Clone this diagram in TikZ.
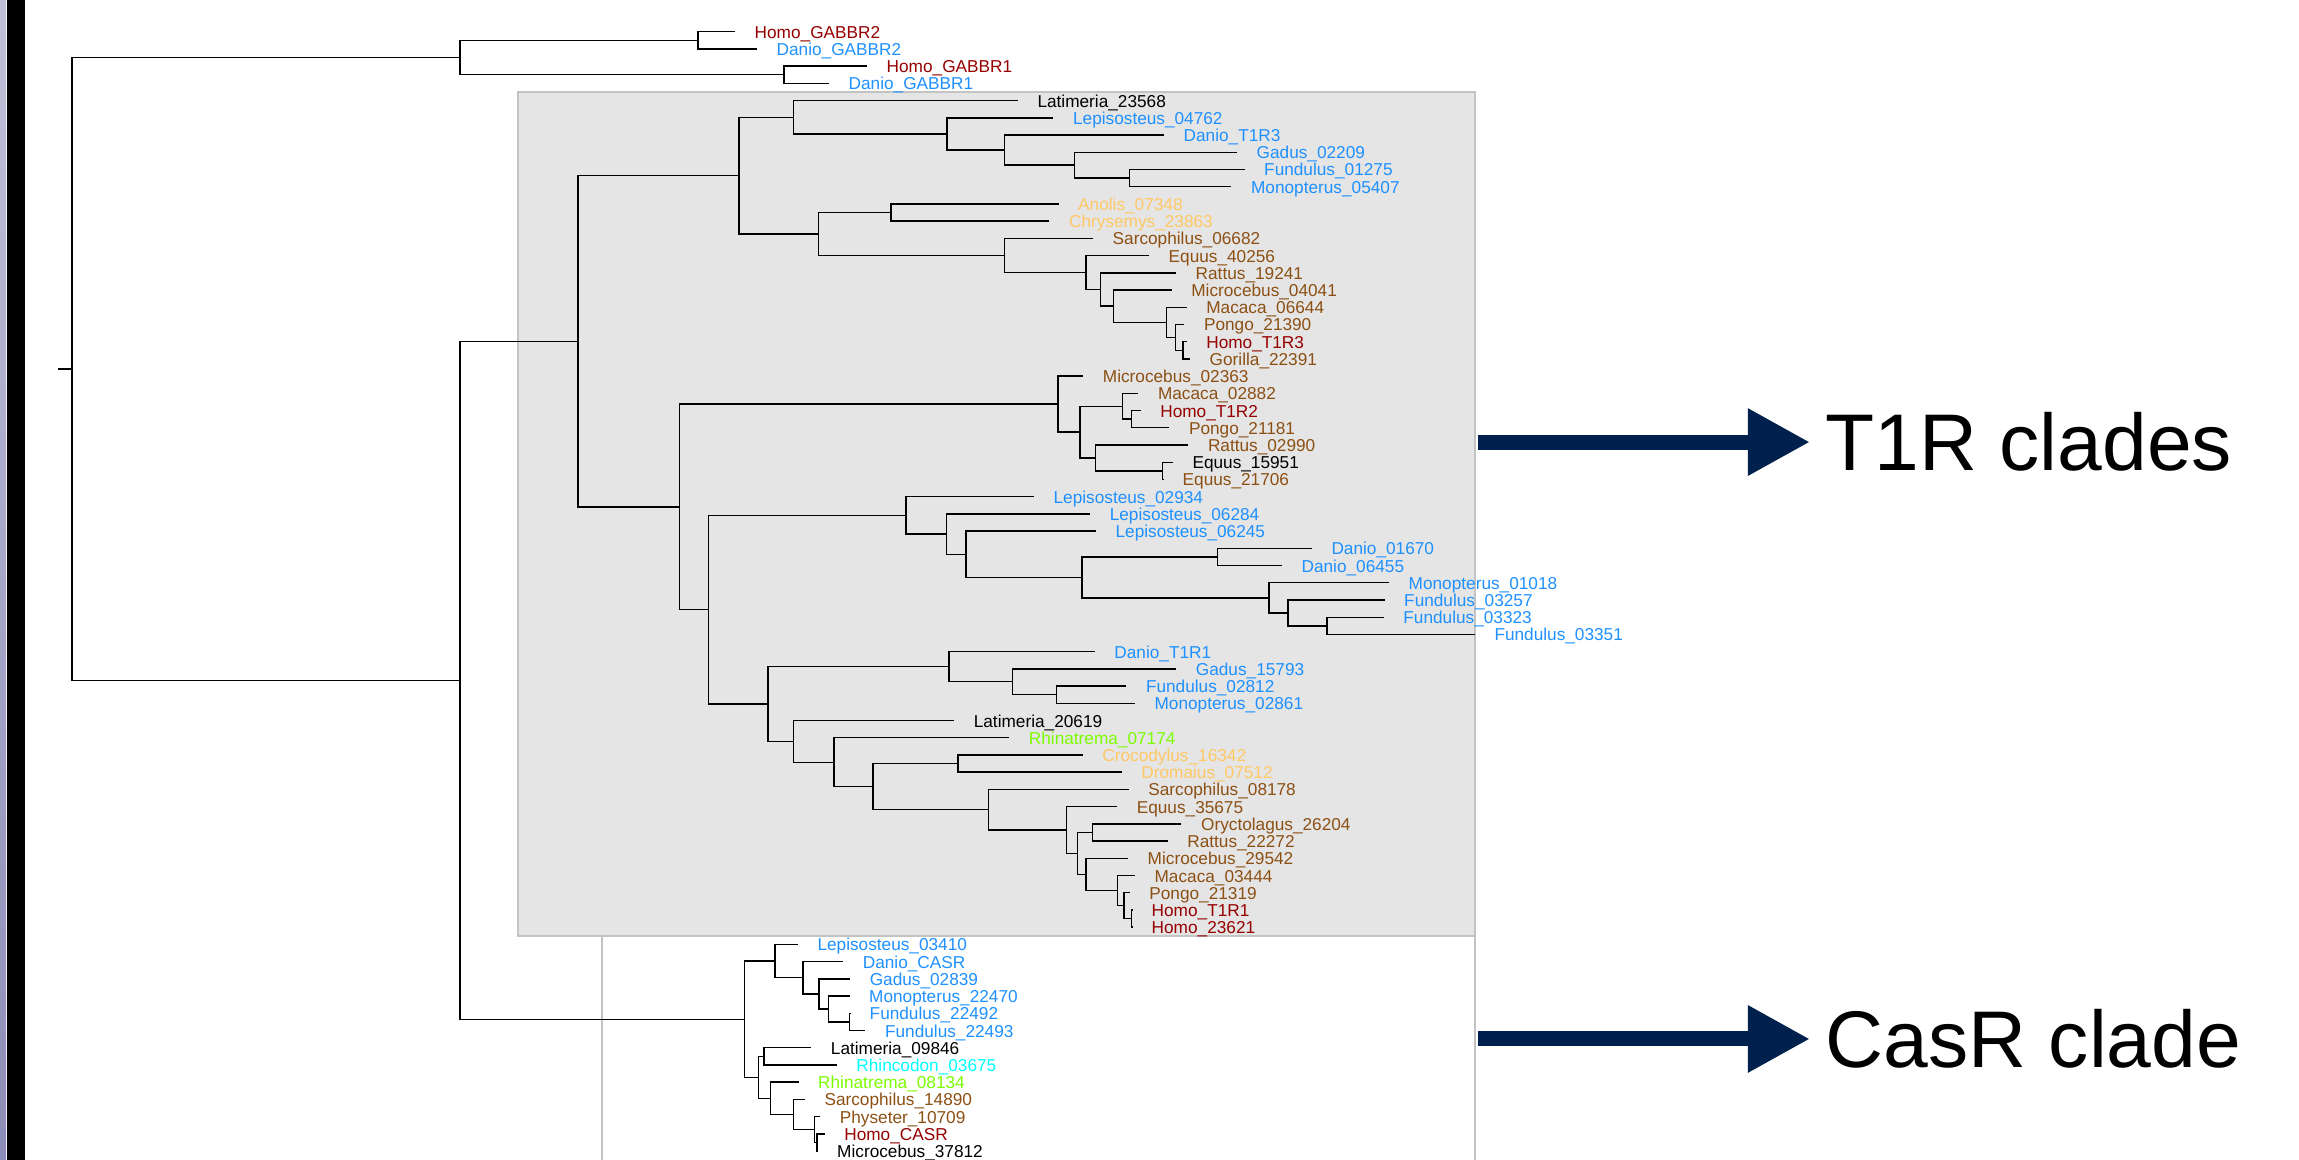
\documentclass[tikz,border=0pt]{standalone}
\usepackage{fontspec}
\setmainfont{Liberation Sans}
\usetikzlibrary{arrows.meta}
\definecolor{homo}{RGB}{150,0,0}
\definecolor{fish}{RGB}{30,144,255}
\definecolor{rept}{RGB}{255,200,100}
\definecolor{mamm}{RGB}{140,80,20}
\definecolor{amph}{RGB}{124,252,0}
\definecolor{shark}{RGB}{0,255,255}
\definecolor{arrownavy}{RGB}{0,33,77}
\definecolor{cladegrey}{RGB}{229,229,229}
\definecolor{boxline}{RGB}{195,195,195}
\definecolor{lilactop}{RGB}{192,192,216}
\definecolor{lilacbot}{RGB}{140,140,184}

\begin{document}
\begin{tikzpicture}[x=0.01cm, y=-0.1721cm,
    leaflab/.style={anchor=west, inner xsep=0.19cm, inner ysep=0, text height=3.7pt, text depth=0pt, font=\fontsize{4.9}{5}\selectfont},
    branchline/.style={line width=0.4pt},
    cladebox/.style={fill=cladegrey, draw=boxline, line width=0.5pt},
    cladelab/.style={anchor=base west, inner xsep=0.15cm, inner ysep=0, font=\fontsize{22.85}{26}\selectfont},
    cladearrow/.style={draw=arrownavy, line width=0.15cm, -{Triangle[length=0.62cm,width=0.63cm]}}]
    \useasboundingbox (0,-0.842) rectangle (2299,66.5);

    \shade[top color=lilactop, bottom color=lilacbot] (0,-0.842) rectangle (6,66.5);
    \fill (6.7,-0.842) rectangle (25,66.5);
    \draw[cladebox] (518,4.5) rectangle (1475,53.53);
    \draw[boxline, line width=0.5pt] (602,53.53) -- (602,66.5) (1475,53.53) -- (1475,66.5);

    \coordinate (stub) at (58,20.58);
    \coordinate (nRoot) at (72,20.58);
    \coordinate (nGab) at (460,2.5);
    \coordinate (nGa2) at (698,1.5);
    \coordinate (nGa1) at (784,3.5);
    \coordinate (nIn) at (460,38.66);
    \coordinate (nT1R) at (578,18.976);
    \coordinate (nA) at (738.8,9.357);
    \coordinate (nB) at (793.3,5.969);
    \coordinate (nC) at (947,6.938);
    \coordinate (nD) at (1004.6,7.875);
    \coordinate (nE) at (1074.6,8.75);
    \coordinate (nF) at (1129.7,9.5);
    \coordinate (nG) at (818.6,12.746);
    \coordinate (nH) at (891,11.5);
    \coordinate (nI) at (1004.6,13.992);
    \coordinate (nJ) at (1086,14.984);
    \coordinate (nK) at (1100.5,15.969);
    \coordinate (nL) at (1113.7,16.938);
    \coordinate (nM) at (1166.5,17.875);
    \coordinate (nN) at (1175.7,18.75);
    \coordinate (nO) at (1183,19.5);
    \coordinate (nP) at (679.7,28.595);
    \coordinate (nQ) at (1058,22.625);
    \coordinate (nR) at (1079.8,24.25);
    \coordinate (nS) at (1122.3,22.75);
    \coordinate (nT) at (1131.5,23.5);
    \coordinate (nU) at (1095.3,25.75);
    \coordinate (nV) at (1162.5,26.5);
    \coordinate (nW) at (708.4,34.564);
    \coordinate (nX) at (905.9,29.086);
    \coordinate (nY) at (946.6,30.172);
    \coordinate (nZ) at (966.1,31.344);
    \coordinate (nAA) at (1082,32.688);
    \coordinate (nAB) at (1217.7,31.5);
    \coordinate (nAC) at (1268.9,33.875);
    \coordinate (nAD) at (1288,34.75);
    \coordinate (nAE) at (1327,35.5);
    \coordinate (nAF) at (768.1,40.042);
    \coordinate (nAG) at (948.9,37.875);
    \coordinate (nAH) at (1012.6,38.75);
    \coordinate (nAI) at (1056.3,39.5);
    \coordinate (nAJ) at (793.3,42.21);
    \coordinate (nAK) at (834.1,43.42);
    \coordinate (nAL) at (873.1,44.84);
    \coordinate (nAM) at (958.1,43.5);
    \coordinate (nAN) at (988.5,46.18);
    \coordinate (nAO) at (1066.6,47.359);
    \coordinate (nAP) at (1077.5,48.719);
    \coordinate (nAQ) at (1092.4,47.5);
    \coordinate (nAR) at (1086.1,49.938);
    \coordinate (nAS) at (1117.7,50.875);
    \coordinate (nAT) at (1124,51.75);
    \coordinate (nAU) at (1131.5,52.5);
    \coordinate (nCas) at (744.3,58.344);
    \coordinate (nBA) at (774.9,54.969);
    \coordinate (nBB) at (802.9,55.938);
    \coordinate (nBC) at (818.9,56.875);
    \coordinate (nBD) at (828.4,57.75);
    \coordinate (nBE) at (849.5,58.5);
    \coordinate (nBF) at (758.3,61.719);
    \coordinate (nBG) at (764,60.5);
    \coordinate (nBH) at (770.4,62.938);
    \coordinate (nBI) at (793.4,63.875);
    \coordinate (nBJ) at (814.4,64.75);
    \coordinate (nBK) at (817,65.5);

    \foreach \x/\i/\c/\t in {735/1/homo/Homo\_GABBR2, 757/2/fish/Danio\_GABBR2,
        867/3/homo/Homo\_GABBR1, 829/4/fish/Danio\_GABBR1,
        1017.8/5/black/Latimeria\_23568, 1053.4/6/fish/Lepisosteus\_04762,
        1164/7/fish/Danio\_T1R3, 1237/8/fish/Gadus\_02209,
        1244.5/9/fish/Fundulus\_01275, 1231.4/10/fish/Monopterus\_05407,
        1058.5/11/rept/Anolis\_07348, 1049.4/12/rept/Chrysemys\_23863,
        1093/13/mamm/Sarcophilus\_06682, 1149/14/mamm/Equus\_40256,
        1176/15/mamm/Rattus\_19241, 1171.6/16/mamm/Microcebus\_04041,
        1186.6/17/mamm/Macaca\_06644, 1184.3/18/mamm/Pongo\_21390,
        1186.6/19/homo/Homo\_T1R3, 1190/20/mamm/Gorilla\_22391,
        1083.2/21/mamm/Microcebus\_02363, 1138.3/22/mamm/Macaca\_02882,
        1140.6/23/homo/Homo\_T1R2, 1169.3/24/mamm/Pongo\_21181,
        1188.3/25/mamm/Rattus\_02990, 1172.8/26/black/Equus\_15951,
        1163/27/mamm/Equus\_21706, 1033.9/28/fish/Lepisosteus\_02934,
        1090.1/29/fish/Lepisosteus\_06284, 1095.9/30/fish/Lepisosteus\_06245,
        1311.8/31/fish/Danio\_01670, 1281.9/32/fish/Danio\_06455,
        1389/33/fish/Monopterus\_01018, 1384.5/34/fish/Fundulus\_03257,
        1383.7/35/fish/Fundulus\_03323, 1474.8/36/fish/Fundulus\_03351,
        1094.7/37/fish/Danio\_T1R1, 1176.2/38/fish/Gadus\_15793,
        1126.3/39/fish/Fundulus\_02812, 1134.9/40/fish/Monopterus\_02861,
        954.1/41/black/Latimeria\_20619, 1009.2/42/amph/Rhinatrema\_07174,
        1082.7/43/rept/Crocodylus\_16342, 1121.7/44/rept/Dromaius\_07512,
        1128.6/45/mamm/Sarcophilus\_08178, 1117.1/46/mamm/Equus\_35675,
        1181.4/47/mamm/Oryctolagus\_26204, 1167.6/48/mamm/Rattus\_22272,
        1128/49/mamm/Microcebus\_29542, 1134.9/50/mamm/Macaca\_03444,
        1129.7/51/mamm/Pongo\_21319, 1132/52/homo/Homo\_T1R1,
        1132/53/homo/Homo\_23621, 797.8/54/fish/Lepisosteus\_03410,
        843.1/55/fish/Danio\_CASR, 850.1/56/fish/Gadus\_02839,
        849.5/57/fish/Monopterus\_22470, 850/58/fish/Fundulus\_22492,
        865.4/59/fish/Fundulus\_22493, 811.2/60/black/Latimeria\_09846,
        836.7/61/shark/Rhincodon\_03675, 798.5/62/amph/Rhinatrema\_08134,
        804.8/63/mamm/Sarcophilus\_14890, 820.2/64/mamm/Physeter\_10709,
        824.6/65/homo/Homo\_CASR, 817.5/66/black/Microcebus\_37812}
        \node[leaflab, text=\c] (t\i) at (\x,\i) {\t};

    \draw[branchline] (stub) -- (nRoot);
    \foreach \p/\q in {nRoot/nGab, nRoot/nIn, nGab/nGa2, nGab/nGa1, nGa2/t1, nGa2/t2, nGa1/t3, nGa1/t4,
        nIn/nT1R, nIn/nCas, nT1R/nA, nT1R/nP,
        nA/nB, nA/nG, nB/t5, nB/nC, nC/t6, nC/nD, nD/t7, nD/nE, nE/t8, nE/nF, nF/t9, nF/t10,
        nG/nH, nG/nI, nH/t11, nH/t12, nI/t13, nI/nJ, nJ/t14, nJ/nK, nK/t15, nK/nL,
        nL/t16, nL/nM, nM/t17, nM/nN, nN/t18, nN/nO, nO/t19, nO/t20,
        nP/nQ, nP/nW, nQ/t21, nQ/nR, nR/nS, nR/nU, nS/t22, nS/nT, nT/t23, nT/t24,
        nU/t25, nU/nV, nV/t26, nV/t27,
        nW/nX, nW/nAF, nX/t28, nX/nY, nY/t29, nY/nZ, nZ/t30, nZ/nAA, nAA/nAB, nAA/nAC,
        nAB/t31, nAB/t32, nAC/t33, nAC/nAD, nAD/t34, nAD/nAE, nAE/t35, nAE/t36,
        nAF/nAG, nAF/nAJ, nAG/t37, nAG/nAH, nAH/t38, nAH/nAI, nAI/t39, nAI/t40,
        nAJ/t41, nAJ/nAK, nAK/t42, nAK/nAL, nAL/nAM, nAL/nAN, nAM/t43, nAM/t44,
        nAN/t45, nAN/nAO, nAO/t46, nAO/nAP, nAP/nAQ, nAP/nAR, nAQ/t47, nAQ/t48,
        nAR/t49, nAR/nAS, nAS/t50, nAS/nAT, nAT/t51, nAT/nAU, nAU/t52, nAU/t53,
        nCas/nBA, nCas/nBF, nBA/t54, nBA/nBB, nBB/t55, nBB/nBC, nBC/t56, nBC/nBD,
        nBD/t57, nBD/nBE, nBE/t58, nBE/t59,
        nBF/nBG, nBF/nBH, nBG/t60, nBG/t61, nBH/t62, nBH/nBI, nBI/t63, nBI/nBJ,
        nBJ/t64, nBJ/nBK, nBK/t65, nBK/t66}
        \draw[branchline] (\p) |- (\q);

    \node[cladelab] (labT1R) at (1810,26.497) {T1R clades};
    \node[cladelab] (labCas) at (1810,61.158) {CasR clade};
    \coordinate (a1) at (1478,24.7);
    \coordinate (a2) at (1478,59.4);
    \draw[cladearrow] (a1 |- labT1R.west) -- (labT1R.west);
    \draw[cladearrow] (a2 |- labCas.west) -- (labCas.west);
\end{tikzpicture}
\end{document}
